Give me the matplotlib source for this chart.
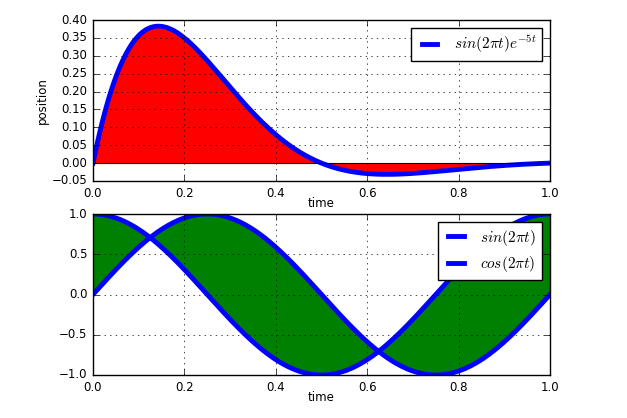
import numpy as np
import matplotlib
matplotlib.use("Agg")
import matplotlib.pyplot as plt

# time samples and the functions named in the legends
t = np.linspace(0.0, 1.0, 201)
freq = 2 * np.pi
decay = 5.0
damped = np.sin(freq * t) * np.exp(-decay * t)
sine = np.sin(freq * t)
cosine = np.cos(freq * t)

top_yticks = [-0.05, 0.0, 0.05, 0.10, 0.15, 0.20, 0.25, 0.30, 0.35, 0.40]
bottom_yticks = [-1.0, -0.5, 0.0, 0.5, 1.0]
xticks = [0.0, 0.2, 0.4, 0.6, 0.8, 1.0]

plt.style.use("classic")
plt.rcParams["font.size"] = 8.5
plt.rcParams["mathtext.fontset"] = "cm"

fig = plt.figure(figsize=(6.27, 4.18), dpi=100)
fig.patch.set_facecolor("white")

W, H = 627.0, 418.0
ax1 = fig.add_axes([93 / W, 1 - 181 / H, 457 / W, 161 / H])
ax1.fill_between(t, damped, 0, color="red", linewidth=0)
ax1.plot(t, damped, color="blue", linewidth=3.5, label=r"$sin(2\pi t)e^{-5t}$")
ax1.axhline(0, color="black", linewidth=0.8)
ax1.set_xlim(0, 1)
ax1.set_ylim(-0.05, 0.40)
ax1.set_xticks(xticks)
ax1.set_yticks(top_yticks)
ax1.set_xlabel("time", labelpad=-2)
ax1.set_ylabel("position", labelpad=2)
ax1.grid(True)
ax1.legend(loc="upper right", fontsize=11, handlelength=1.6)

ax2 = fig.add_axes([93 / W, 1 - 375 / H, 457 / W, 161 / H])
ax2.fill_between(t, sine, cosine, color="green", linewidth=0)
ax2.plot(t, sine, color="blue", linewidth=3.5, label=r"$sin(2\pi t)$")
ax2.plot(t, cosine, color="blue", linewidth=3.5, label=r"$cos(2\pi t)$")
ax2.set_xlim(0, 1)
ax2.set_ylim(-1, 1)
ax2.set_xticks(xticks)
ax2.set_yticks(bottom_yticks)
ax2.set_xlabel("time", labelpad=-2)
ax2.grid(True)
ax2.legend(loc="upper right", fontsize=11, handlelength=1.6, labelspacing=0.4)

fig.savefig("out.png", dpi=100, facecolor="white")
